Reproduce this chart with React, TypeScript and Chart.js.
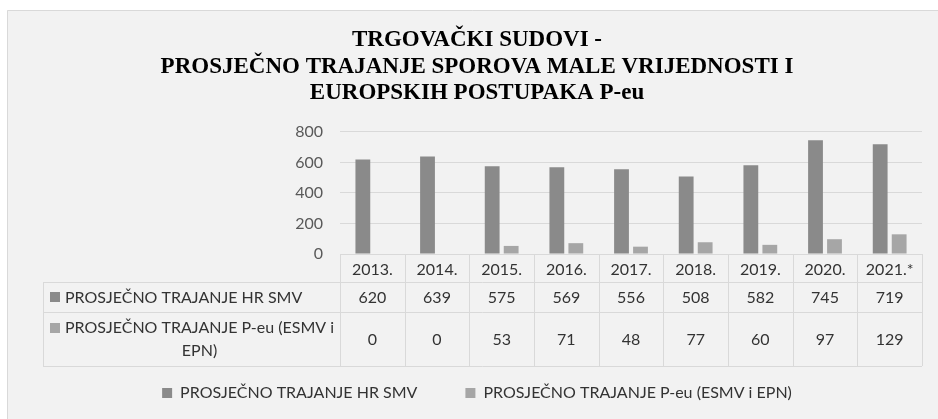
import React, { useEffect, useRef } from "react";
import { Chart, registerables } from "chart.js";

Chart.register(...registerables);

const titleLines = [
  "TRGOVAČKI SUDOVI -",
  "PROSJEČNO TRAJANJE SPOROVA MALE VRIJEDNOSTI I",
  "EUROPSKIH POSTUPAKA P-eu",
];
const categories = ["2013.", "2014.", "2015.", "2016.", "2017.", "2018.", "2019.", "2020.", "2021.*"];
const seriesNames = ["PROSJEČNO TRAJANJE HR SMV", "PROSJEČNO TRAJANJE P-eu (ESMV i EPN)"];
const hrSmv = [620, 639, 575, 569, 556, 508, 582, 745, 719];
const pEu = [0, 0, 53, 71, 48, 77, 60, 97, 129];
const yTicks = [0, 200, 400, 600, 800];

const COLORS = ["#8a8a8a", "#a6a6a6"];
const FONT = "Lato";
const TEXT = "#333333";
const GRID = "#d9d9d9";

const framePlugin = {
  id: "frame",
  beforeDraw(chart: any) {
    const { ctx, width, height } = chart;
    ctx.save();
    ctx.fillStyle = "#ffffff";
    ctx.fillRect(0, 0, width, height);
    ctx.fillStyle = "#f2f2f2";
    ctx.fillRect(7, 10, width - 7, height - 10);
    ctx.strokeStyle = GRID;
    ctx.lineWidth = 1;
    ctx.beginPath();
    ctx.moveTo(7.5, height);
    ctx.lineTo(7.5, 10.5);
    ctx.lineTo(width, 10.5);
    ctx.stroke();
    ctx.restore();
  },
};

const tablePlugin = {
  id: "dataTable",
  afterDraw(chart: any) {
    const { ctx, chartArea } = chart;
    const xs = chart.scales.x;
    const n = categories.length;
    const step = xs.getPixelForValue(1) - xs.getPixelForValue(0);
    const left0 = xs.getPixelForValue(0) - step / 2;
    const right = xs.getPixelForValue(n - 1) + step / 2;
    const top = chartArea.bottom;
    const hHead = 28;
    const hRow1 = 30;
    const hRow2 = 54;
    const r1 = top + hHead;
    const r2 = r1 + hRow1;
    const bottom = r2 + hRow2;
    const labelLeft = left0 - 297;

    const px = (v: number) => Math.round(v) + 0.5;

    ctx.save();
    ctx.strokeStyle = GRID;
    ctx.lineWidth = 1;
    ctx.beginPath();
    ctx.moveTo(left0, px(top));
    ctx.lineTo(right, px(top));
    [r1, r2, bottom].forEach((y) => {
      ctx.moveTo(labelLeft, px(y));
      ctx.lineTo(right, px(y));
    });
    for (let i = 0; i <= n; i++) {
      const x = px(left0 + i * step);
      ctx.moveTo(x, top);
      ctx.lineTo(x, bottom);
    }
    ctx.moveTo(px(labelLeft), r1);
    ctx.lineTo(px(labelLeft), bottom);
    ctx.stroke();

    ctx.font = `16px ${FONT}`;
    ctx.fillStyle = TEXT;
    ctx.textAlign = "center";
    ctx.textBaseline = "middle";
    const rows = [hrSmv, pEu];
    const rowCenters = [r1 + hRow1 / 2, r2 + hRow2 / 2];
    rows.forEach((row, ri) => {
      row.forEach((v, i) => {
        ctx.fillText(String(v), xs.getPixelForValue(i), rowCenters[ri] + 1);
      });
    });

    const markerX = labelLeft + 7;
    const textX = labelLeft + 22;
    ctx.fillStyle = COLORS[0];
    ctx.fillRect(markerX, rowCenters[0] - 5, 10, 10);
    ctx.fillStyle = TEXT;
    ctx.textAlign = "left";
    ctx.fillText(seriesNames[0], textX, rowCenters[0] + 1);
    const name2 = seriesNames[1];
    const cut = name2.lastIndexOf(" ");
    const line1 = name2.slice(0, cut);
    const line2 = name2.slice(cut + 1);
    const l1y = rowCenters[1] - 11;
    const l2y = rowCenters[1] + 12;
    ctx.fillStyle = COLORS[1];
    ctx.fillRect(markerX, l1y - 5, 10, 10);
    ctx.fillStyle = TEXT;
    ctx.fillText(line1, textX, l1y);
    ctx.textAlign = "center";
    const w1 = ctx.measureText(line1).width;
    ctx.fillText(line2, textX + w1 / 2, l2y);
    ctx.restore();
  },
};

export default function App() {
  const ref = useRef<HTMLCanvasElement>(null);
  useEffect(() => {
    if (!ref.current) return;
    const chart = new Chart(ref.current, {
      type: "bar",
      data: {
        labels: categories,
        datasets: [
          { label: seriesNames[0], data: hrSmv, backgroundColor: COLORS[0] },
          { label: seriesNames[1], data: pEu, backgroundColor: COLORS[1] },
        ],
      },
      plugins: [framePlugin, tablePlugin],
      options: {
        animation: false,
        responsive: false,
        maintainAspectRatio: false,
        events: [],
        layout: { padding: { left: 32, right: 16, top: 10, bottom: 8 } },
        datasets: {
          bar: { categoryPercentage: 0.587, barPercentage: 0.78 },
        },
        scales: {
          x: {
            grid: { display: false },
            border: { display: false },
            ticks: {
              color: TEXT,
              font: { family: FONT, size: 16 },
              padding: -2,
              maxRotation: 0,
              autoSkip: false,
            },
            afterFit: (s: any) => {
              s.height = 83;
            },
          },
          y: {
            min: 0,
            max: 800,
            afterBuildTicks: (s: any) => {
              s.ticks = yTicks.map((v) => ({ value: v }));
            },
            grid: { color: GRID, drawTicks: false, lineWidth: 1 },
            border: { display: false },
            ticks: {
              color: "#595959",
              font: { family: FONT, size: 16 },
              padding: 17,
            },
            afterFit: (s: any) => {
              s.width = 308;
            },
          },
        },
        plugins: {
          title: {
            display: true,
            text: titleLines,
            color: "#000000",
            font: { family: "Liberation Serif", size: 23, weight: "bold", lineHeight: 1.15 },
            padding: { top: 17, bottom: 25.6 },
          },
          legend: {
            position: "bottom",
            maxHeight: 74,
            labels: {
              color: TEXT,
              font: { family: FONT, size: 16 },
              boxWidth: 10,
              boxHeight: 10,
              padding: 48,
            },
          },
          tooltip: { enabled: false },
        },
      },
    });
    return () => chart.destroy();
  }, []);
  return (
    <div style={{ position: "fixed", left: 0, top: 0, width: 938, height: 419 }}>
      <canvas ref={ref} width={938} height={419} style={{ width: 938, height: 419 }} />
    </div>
  );
}
